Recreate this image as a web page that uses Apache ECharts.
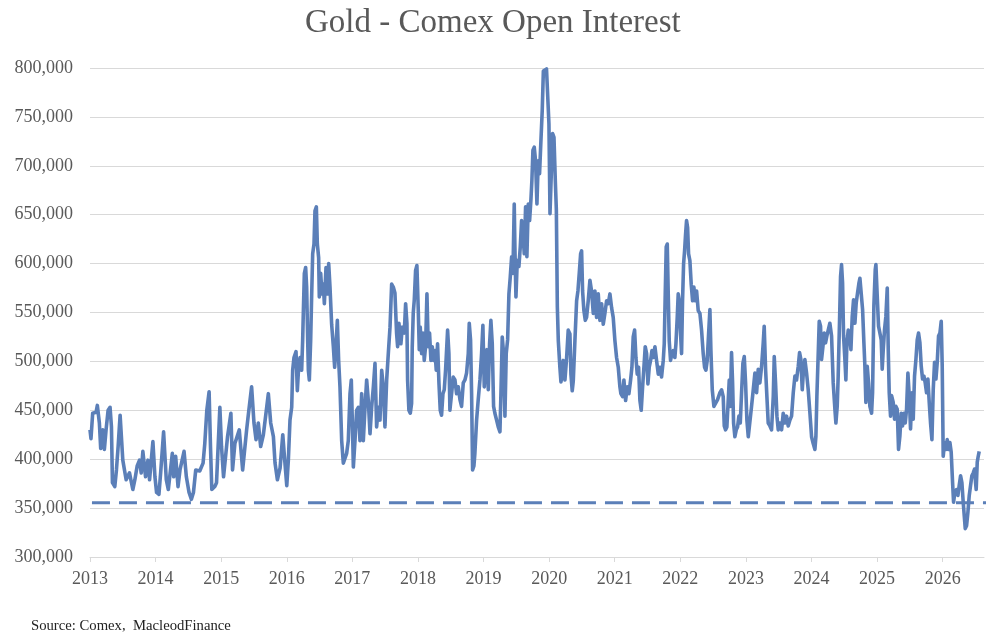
<!DOCTYPE html>
<html>
<head>
<meta charset="utf-8">
<title>Gold - Comex Open Interest</title>
<script src="https://cdn.jsdelivr.net/npm/echarts@6/dist/echarts.min.js"></script>
<style>
  html, body { margin: 0; padding: 0; background: #fff; }
  #chart { width: 1004px; height: 640px; }
</style>
</head>
<body>
<div id="chart"></div>
<script>
// weekly readings, dates as decimal years, open interest in thousands of contracts
var weeks = [
  2013.000, 2013.015, 2013.041, 2013.092, 2013.112, 2013.143, 2013.163, 2013.194, 2013.219, 2013.245,
  2013.276, 2013.306, 2013.327, 2013.342, 2013.378, 2013.403, 2013.429, 2013.459, 2013.500, 2013.551,
  2013.602, 2013.653, 2013.684, 2013.719, 2013.755, 2013.781, 2013.806, 2013.847, 2013.883, 2013.908,
  2013.959, 2013.990, 2014.015, 2014.051, 2014.077, 2014.122, 2014.163, 2014.194, 2014.255, 2014.276,
  2014.306, 2014.342, 2014.372, 2014.434, 2014.469, 2014.510, 2014.546, 2014.577, 2014.612, 2014.673,
  2014.724, 2014.750, 2014.781, 2014.816, 2014.837, 2014.857, 2014.903, 2014.929, 2014.980, 2015.005,
  2015.036, 2015.097, 2015.148, 2015.173, 2015.209, 2015.276, 2015.327, 2015.388, 2015.413, 2015.464,
  2015.500, 2015.531, 2015.566, 2015.602, 2015.643, 2015.719, 2015.755, 2015.796, 2015.821, 2015.857,
  2015.898, 2015.939, 2015.964, 2016.000, 2016.024, 2016.049, 2016.075, 2016.090, 2016.110, 2016.141,
  2016.161, 2016.181, 2016.202, 2016.227, 2016.242, 2016.252, 2016.268, 2016.288, 2016.303, 2016.319,
  2016.329, 2016.344, 2016.364, 2016.380, 2016.395, 2016.415, 2016.430, 2016.451, 2016.466, 2016.486,
  2016.496, 2016.517, 2016.537, 2016.557, 2016.573, 2016.598, 2016.618, 2016.639, 2016.659, 2016.684,
  2016.710, 2016.730, 2016.750, 2016.771, 2016.791, 2016.811, 2016.837, 2016.862, 2016.888, 2016.913,
  2016.938, 2016.964, 2016.984, 2017.004, 2017.015, 2017.040, 2017.065, 2017.091, 2017.116, 2017.142,
  2017.167, 2017.193, 2017.218, 2017.243, 2017.269, 2017.294, 2017.320, 2017.345, 2017.370, 2017.396,
  2017.421, 2017.447, 2017.472, 2017.497, 2017.523, 2017.548, 2017.574, 2017.599, 2017.624, 2017.649,
  2017.674, 2017.690, 2017.710, 2017.740, 2017.761, 2017.791, 2017.812, 2017.832, 2017.842, 2017.862,
  2017.883, 2017.903, 2017.913, 2017.928, 2017.944, 2017.964, 2017.984, 2018.005, 2018.020, 2018.035,
  2018.056, 2018.076, 2018.096, 2018.116, 2018.137, 2018.157, 2018.177, 2018.198, 2018.218, 2018.238,
  2018.259, 2018.279, 2018.299, 2018.320, 2018.340, 2018.360, 2018.381, 2018.401, 2018.421, 2018.452,
  2018.472, 2018.487, 2018.513, 2018.538, 2018.564, 2018.589, 2018.614, 2018.640, 2018.665, 2018.691,
  2018.716, 2018.741, 2018.767, 2018.782, 2018.802, 2018.818, 2018.833, 2018.853, 2018.868, 2018.894,
  2018.919, 2018.945, 2018.970, 2018.990, 2019.011, 2019.031, 2019.051, 2019.072, 2019.092, 2019.112,
  2019.133, 2019.153, 2019.173, 2019.199, 2019.224, 2019.250, 2019.265, 2019.285, 2019.306, 2019.326,
  2019.346, 2019.367, 2019.387, 2019.407, 2019.428, 2019.448, 2019.468, 2019.478, 2019.494, 2019.514,
  2019.539, 2019.560, 2019.580, 2019.600, 2019.621, 2019.641, 2019.661, 2019.682, 2019.702, 2019.722,
  2019.737, 2019.753, 2019.773, 2019.793, 2019.814, 2019.834, 2019.854, 2019.875, 2019.895, 2019.912,
  2019.935, 2019.960, 2019.980, 2019.997, 2020.013, 2020.033, 2020.053, 2020.074, 2020.094, 2020.110,
  2020.125, 2020.140, 2020.164, 2020.180, 2020.200, 2020.215, 2020.241, 2020.266, 2020.291, 2020.317,
  2020.332, 2020.352, 2020.368, 2020.393, 2020.419, 2020.439, 2020.459, 2020.480, 2020.495, 2020.510,
  2020.530, 2020.551, 2020.571, 2020.596, 2020.622, 2020.647, 2020.673, 2020.698, 2020.723, 2020.749,
  2020.774, 2020.800, 2020.825, 2020.850, 2020.876, 2020.901, 2020.927, 2020.952, 2020.977, 2021.003,
  2021.028, 2021.054, 2021.079, 2021.094, 2021.120, 2021.140, 2021.166, 2021.191, 2021.216, 2021.242,
  2021.262, 2021.282, 2021.303, 2021.323, 2021.343, 2021.364, 2021.384, 2021.404, 2021.425, 2021.445,
  2021.465, 2021.486, 2021.506, 2021.526, 2021.547, 2021.567, 2021.587, 2021.613, 2021.638, 2021.664,
  2021.689, 2021.714, 2021.740, 2021.755, 2021.770, 2021.785, 2021.801, 2021.816, 2021.831, 2021.851,
  2021.872, 2021.892, 2021.917, 2021.933, 2021.953, 2021.968, 2021.984, 2022.004, 2022.019, 2022.034,
  2022.050, 2022.065, 2022.080, 2022.095, 2022.111, 2022.126, 2022.146, 2022.166, 2022.187, 2022.207,
  2022.227, 2022.248, 2022.273, 2022.299, 2022.324, 2022.349, 2022.370, 2022.390, 2022.410, 2022.431,
  2022.451, 2022.466, 2022.487, 2022.512, 2022.538, 2022.568, 2022.604, 2022.629, 2022.654, 2022.670,
  2022.690, 2022.710, 2022.731, 2022.746, 2022.761, 2022.781, 2022.797, 2022.812, 2022.832, 2022.853,
  2022.873, 2022.893, 2022.914, 2022.934, 2022.954, 2022.975, 2022.995, 2023.015, 2023.036, 2023.061,
  2023.086, 2023.112, 2023.137, 2023.163, 2023.188, 2023.213, 2023.239, 2023.264, 2023.279, 2023.300,
  2023.320, 2023.340, 2023.366, 2023.391, 2023.417, 2023.432, 2023.452, 2023.473, 2023.493, 2023.518,
  2023.544, 2023.569, 2023.594, 2023.620, 2023.645, 2023.671, 2023.696, 2023.722, 2023.747, 2023.772,
  2023.798, 2023.818, 2023.838, 2023.859, 2023.879, 2023.899, 2023.925, 2023.950, 2023.976, 2024.001,
  2024.026, 2024.052, 2024.067, 2024.082, 2024.103, 2024.118, 2024.138, 2024.153, 2024.174, 2024.194,
  2024.214, 2024.235, 2024.255, 2024.280, 2024.306, 2024.331, 2024.357, 2024.372, 2024.392, 2024.407,
  2024.428, 2024.443, 2024.458, 2024.474, 2024.489, 2024.509, 2024.524, 2024.540, 2024.560, 2024.580,
  2024.601, 2024.621, 2024.641, 2024.662, 2024.682, 2024.702, 2024.723, 2024.738, 2024.763, 2024.779,
  2024.799, 2024.814, 2024.829, 2024.850, 2024.870, 2024.890, 2024.916, 2024.931, 2024.951, 2024.972,
  2024.982, 2025.002, 2025.022, 2025.043, 2025.063, 2025.078, 2025.094, 2025.114, 2025.134, 2025.155,
  2025.170, 2025.185, 2025.205, 2025.221, 2025.246, 2025.266, 2025.287, 2025.307, 2025.327, 2025.348,
  2025.368, 2025.388, 2025.409, 2025.429, 2025.449, 2025.470, 2025.490, 2025.510, 2025.531, 2025.551,
  2025.571, 2025.592, 2025.612, 2025.632, 2025.653, 2025.673, 2025.693, 2025.714, 2025.734, 2025.754,
  2025.775, 2025.795, 2025.815, 2025.836, 2025.856, 2025.876, 2025.897, 2025.917, 2025.937, 2025.958,
  2025.978, 2025.993, 2026.008, 2026.029, 2026.049, 2026.069, 2026.090, 2026.110, 2026.130, 2026.151,
  2026.166, 2026.186, 2026.212, 2026.232, 2026.252, 2026.273, 2026.293, 2026.313, 2026.329, 2026.344,
  2026.364, 2026.385, 2026.405, 2026.425, 2026.445, 2026.466, 2026.486, 2026.501, 2026.511, 2026.527,
  2026.542, 2026.557
];

var openInterest = [
  430, 421, 447, 448, 455, 437, 411, 430, 410, 430,
  450, 453, 433, 376, 372, 389, 413, 445, 399, 379,
  386, 369, 379, 393, 399, 386, 408, 382, 399, 379,
  418, 382, 366, 364, 386, 428, 379, 369, 406, 382,
  403, 372, 389, 408, 382, 366, 359, 366, 389, 388,
  396, 416, 450, 469, 413, 369, 372, 376, 453, 413,
  382, 423, 447, 389, 416, 430, 389, 430, 445, 474,
  437, 420, 437, 413, 425, 467, 437, 423, 396, 379,
  391, 425, 403, 373, 399, 440, 453, 491, 504, 510,
  470, 494, 504, 491, 521, 549, 590, 596, 576, 521,
  491, 481, 521, 569, 610, 620, 654, 658, 620, 606,
  566, 590, 569, 579, 559, 596, 569, 600, 576, 538,
  515, 494, 515, 542, 501, 474, 419, 396, 396, 406,
  419, 467, 481, 426, 392, 419, 450, 453, 419, 467,
  419, 453, 481, 460, 426, 453, 474, 498, 433, 453,
  440, 491, 474, 433, 481, 508, 535, 579, 576, 570,
  529, 515, 539, 518, 535, 529, 559, 539, 481, 450,
  447, 457, 515, 549, 563, 593, 598, 552, 512, 535,
  508, 529, 501, 515, 569, 515, 529, 501, 515, 501,
  511, 491, 518, 478, 450, 445, 467, 471, 491, 532,
  508, 450, 467, 484, 481, 467, 474, 461, 454, 478,
  481, 488, 508, 539, 522, 467, 389, 393, 406, 440,
  461, 481, 508, 537, 474, 501, 512, 471, 518, 542,
  518, 454, 447, 440, 433, 428, 467, 525, 508, 444,
  508, 522, 569, 586, 607, 590, 661, 617, 566, 603,
  597, 617, 644, 631, 610, 658, 607, 661, 644, 665,
  685, 716, 719, 705, 661, 705, 692, 726, 757, 797,
  799, 799, 797, 743, 651, 692, 733, 729, 685, 655,
  556, 521, 494, 479, 487, 501, 481, 503, 532, 528,
  487, 470, 480, 521, 562, 572, 590, 610, 613, 572,
  552, 542, 545, 562, 583, 572, 549, 572, 545, 569,
  542, 559, 538, 549, 562, 559, 569, 555, 545, 521,
  504, 494, 474, 467, 464, 481, 460, 474, 467, 481,
  494, 525, 532, 504, 487, 494, 460, 450, 474, 494,
  515, 508, 477, 494, 501, 511, 504, 515, 501, 487,
  494, 484, 501, 518, 569, 617, 620, 569, 521, 501,
  508, 511, 504, 518, 545, 569, 562, 528, 508, 562,
  600, 613, 630, 644, 637, 610, 603, 579, 562, 576,
  562, 572, 552, 549, 532, 508, 494, 491, 501, 528,
  553, 512, 471, 454, 456, 461, 468, 471, 464, 434,
  430, 433, 461, 481, 454, 509, 478, 437, 423, 430,
  433, 444, 437, 468, 498, 505, 478, 440, 423, 423,
  454, 471, 488, 468, 492, 478, 495, 519, 536, 492,
  464, 437, 434, 430, 464, 505, 478, 444, 430, 437,
  430, 447, 437, 444, 434, 440, 444, 468, 485, 481,
  495, 509, 502, 471, 492, 502, 488, 471, 447, 423,
  416, 410, 423, 464, 509, 541, 536, 502, 515, 529,
  519, 526, 532, 539, 526, 478, 451, 437, 454, 485,
  543, 587, 599, 580, 526, 502, 481, 519, 532, 526,
  512, 546, 563, 539, 560, 570, 580, 585, 587, 553,
  519, 495, 458, 495, 478, 454, 447, 468, 557, 594,
  599, 567, 536, 529, 522, 492, 512, 533, 546, 575,
  512, 468, 444, 465, 458, 441, 454, 451, 410, 424,
  447, 434, 447, 437, 451, 488, 465, 431, 468, 441,
  485, 502, 522, 529, 519, 495, 482, 485, 478, 468,
  482, 458, 437, 420, 471, 499, 482, 499, 526, 529,
  541, 495, 403, 417, 410, 420, 410, 417, 407, 376,
  356, 366, 369, 363, 373, 383, 376, 356, 342, 329,
  332, 346, 363, 373, 383, 386, 390, 376, 369, 397,
  403, 408
];

// dashed support level, from start of data to just past the axis end
var supportYears = [2013.03, 2026.83];
var supportLevel = [355.5, 355.5];

var yearTicks = [2013, 2014, 2015, 2016, 2017, 2018, 2019, 2020, 2021, 2022, 2023, 2024, 2025, 2026];

var lineColor = '#5b7fb8';
var textGrey = '#595959';
var serif = '"Liberation Serif", "DejaVu Serif", serif';

var myChart = echarts.init(document.getElementById('chart'));

option = {
    animation: false,
    backgroundColor: '#fff',
    title: [
        {
            text: 'Gold - Comex Open Interest',
            left: 300,
            top: 2,
            textStyle: { fontFamily: serif, fontSize: 33, fontWeight: 'normal', color: textGrey }
        },
        {
            text: 'Source: Comex,  MacleodFinance',
            left: 26,
            top: 614,
            textStyle: { fontFamily: serif, fontSize: 14.7, fontWeight: 'normal', color: '#222' }
        }
    ],
    grid: { left: 90, right: 20, top: 68, bottom: 83 },
    xAxis: {
        type: 'value',
        min: 2013,
        max: 2026.63,
        interval: 1,
        splitLine: { show: false },
        axisLine: { show: true, lineStyle: { color: '#d9d9d9', width: 1 } },
        axisTick: { show: true, length: 5, lineStyle: { color: '#d9d9d9' }, customValues: yearTicks },
        axisLabel: {
            customValues: yearTicks,
            margin: 13,
            fontFamily: serif,
            fontSize: 18,
            color: textGrey,
            formatter: function (v) { return String(Math.round(v)); }
        }
    },
    yAxis: {
        type: 'value',
        min: 300,
        max: 800,
        interval: 50,
        axisLine: { show: false },
        axisTick: { show: false },
        splitLine: { lineStyle: { color: '#d9d9d9', width: 1 } },
        axisLabel: {
            margin: 17,
            fontFamily: serif,
            fontSize: 18,
            color: textGrey,
            formatter: function (v) { return (v * 1000).toLocaleString('en-US'); }
        }
    },
    series: [
        {
            name: 'support',
            type: 'line',
            clip: false,
            symbol: 'none',
            silent: true,
            lineStyle: { color: lineColor, width: 3, type: [18, 9] },
            data: supportYears.map(function (x, i) { return [x, supportLevel[i]]; })
        },
        {
            name: 'Open Interest',
            type: 'line',
            symbol: 'none',
            lineStyle: { color: lineColor, width: 3.6, join: 'round' },
            data: weeks.map(function (w, i) { return [w, openInterest[i]]; })
        }
    ]
};

myChart.setOption(option);
</script>
</body>
</html>
